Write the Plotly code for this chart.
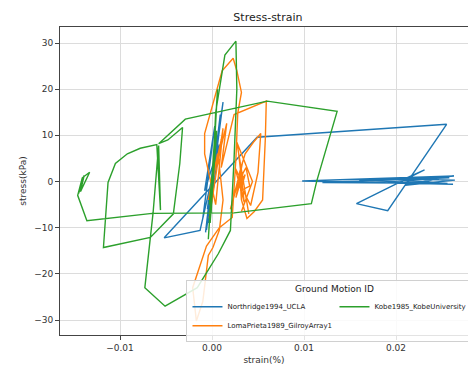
import plotly.graph_objects as go

# ---- data (strain in %, stress in kPa) ----
northridge_strain = [0.0000, 0.0002, -0.0003, 0.0004, -0.0005, 0.0006, -0.0004, 0.0009, -0.0006, 0.0012,
                     0.0001, -0.0007, 0.0005, -0.0002, 0.0008, -0.0008, 0.0003, -0.0010, 0.0006, -0.0013,
                     -0.0052, 0.0049, 0.0255, 0.0191, 0.0157, 0.0231, 0.0205, 0.0263, 0.0098, 0.0262,
                     0.0160, 0.0258, 0.0120, 0.0256, 0.0185, 0.0264, 0.0210, 0.0252, 0.0228]
northridge_stress = [0.0, 4.0, -3.5, 7.5, -6.0, 9.8, -9.0, 14.5, -10.5, 17.2,
                     2.0, -11.0, 10.0, -6.5, 8.0, -2.0, 12.0, -8.0, 6.0, -10.6,
                     -12.2, 9.6, 12.4, -6.3, -4.8, 2.5, 0.2, 1.2, 0.1, -0.6,
                     0.3, 0.8, -0.2, -0.4, 0.6, 0.3, -0.8, 0.9, -0.2]

lomaprieta_strain = [0.0000, 0.0006, -0.0004, 0.0010, -0.0003, 0.0012, 0.0004, -0.0008, -0.0008, 0.0003,
                     0.0011, 0.0023, 0.0027, 0.0032, 0.0028, 0.0026, 0.0024, 0.0022, 0.0008, -0.0006,
                     -0.0021, -0.0017, -0.0010, -0.0004, 0.0001, 0.0008, 0.0012, 0.0007, 0.0016, 0.0010,
                     0.0024, 0.0059, 0.0058, 0.0057, 0.0055, 0.0046, 0.0038, 0.0032, 0.0030, 0.0036,
                     0.0045, 0.0053, 0.0050, 0.0042, 0.0034, 0.0030, 0.0037, 0.0041, 0.0031, 0.0036,
                     0.0028, 0.0034, 0.0026, 0.0033, 0.0020, 0.0030, 0.0025, 0.0035, 0.0029, 0.0040,
                     0.0027, 0.0044, 0.0032]
lomaprieta_stress = [0.0, 6.0, -4.0, 9.0, -8.0, 11.5, -5.0, 6.0, 10.4, 18.3,
                     24.0, 26.7, 24.0, 19.3, 14.8, 5.0, -3.0, -7.8, -10.0, -14.0,
                     -23.0, -30.2, -26.0, -16.0, -14.3, -10.5, -4.0, 5.2, 12.6, 3.0,
                     14.5, 17.4, 9.5, 4.5, -4.0, -6.5, -8.0, -4.0, 2.0, 6.0,
                     8.5, 10.4, 2.0, -5.2, -2.0, 0.5, 3.0, -1.0, -2.0, 1.5,
                     -1.0, 2.0, -3.5, 4.0, -6.0, 1.0, 3.0, -4.5, 6.0, -7.0,
                     8.5, 0.0, -6.5]

kobe_strain = [0.0000, 0.0003, -0.0003, 0.0005, -0.0002, 0.0006, -0.0004, 0.0003, -0.0001, 0.0004,
               0.0014, 0.0026, 0.0027, 0.0024,
               0.0020, 0.0007, -0.0016, -0.0051, -0.0073, -0.0064, -0.0058, -0.0056, -0.0060, -0.0078,
               -0.0092, -0.0105, -0.0113, -0.0118, -0.0067, -0.0042, -0.0035, -0.0032, -0.0048, -0.0058,
               -0.0029, 0.0060, 0.0136, 0.0114, 0.0108, 0.0024, -0.0065, -0.0136, -0.0146, -0.0141,
               -0.0133, -0.0143, -0.0139, -0.0145]
kobe_stress = [0.0, 6.0, -5.0, 11.0, -9.0, 20.0, -12.5, 9.0, -7.0, 15.0,
               27.4, 30.4, 20.0, 5.0,
               -10.6, -15.6, -23.0, -27.0, -23.0, -6.7, 7.8, -6.2, 8.0, 7.2,
               6.0, 3.9, -0.2, -14.3, -12.1, -7.0, 3.9, 11.7, 9.0, 8.2,
               13.5, 17.4, 15.2, 0.2, -4.8, -6.8, -6.9, -8.5, -3.0, 0.8,
               2.0, -2.2, 1.3, -2.6]

names = ["Northridge1994_UCLA", "LomaPrieta1989_GilroyArray1", "Kobe1985_KobeUniversity"]
colors = ["#1f77b4", "#ff7f0e", "#2ca02c"]
xticks = [-0.01, 0.0, 0.01, 0.02]
xticklabels = ["\u22120.01", "0.00", "0.01", "0.02"]
yticks = [-30, -20, -10, 0, 10, 20, 30]
yticklabels = ["\u221230", "\u221220", "\u221210", "0", "10", "20", "30"]

series = [(northridge_strain, northridge_stress), (lomaprieta_strain, lomaprieta_stress),
          (kobe_strain, kobe_stress)]
ranks = [1, 3, 2]

fig = go.Figure()
for (xs, ys), name, col, rk in zip(series, names, colors, ranks):
    fig.add_trace(go.Scatter(x=xs, y=ys, mode="lines", name=name, legendrank=rk,
                             line=dict(color=col, width=1.4)))

font = "DejaVu Sans, sans-serif"
fig.update_layout(
    width=468, height=365,
    margin=dict(l=60, r=0, t=27, b=30, autoexpand=False),
    paper_bgcolor="white", plot_bgcolor="white",
    font=dict(family=font, size=9, color="#333"),
    title=dict(text="Stress-strain", x=0.5725, xanchor="center", y=0.953, yanchor="middle",
               font=dict(family=font, size=11, color="#222")),
    showlegend=True,
    legend=dict(
        orientation="h", x=0.31, xanchor="left", y=0.18, yanchor="top",
        entrywidth=102, entrywidthmode="pixels",
        bgcolor="rgba(255,255,255,0.85)", bordercolor="#d0d0d0", borderwidth=1,
        font=dict(family=font, size=7, color="#222"),
        title=dict(text="Ground Motion ID", side="top center",
                   font=dict(family=font, size=9, color="#222")),
        tracegroupgap=0, itemwidth=30,
    ),
)
fig.update_xaxes(range=[-0.016522, 0.027826], tickvals=xticks, ticktext=xticklabels,
                 showgrid=True, gridcolor="#dcdcdc", gridwidth=1, zeroline=False,
                 showline=True, linecolor="#444", linewidth=1, mirror=True,
                 ticks="outside", ticklen=4, tickcolor="#444",
                 title=dict(text="strain(%)", standoff=6, font=dict(size=9)))
fig.update_yaxes(range=[-33.25, 33.47], tickvals=yticks, ticktext=yticklabels,
                 showgrid=True, gridcolor="#dcdcdc", gridwidth=1, zeroline=False,
                 showline=True, linecolor="#444", linewidth=1, mirror=False,
                 ticks="outside", ticklen=4, tickcolor="#444",
                 title=dict(text="stress(kPa)", standoff=6, font=dict(size=9)))

fig.write_html("out.html")
